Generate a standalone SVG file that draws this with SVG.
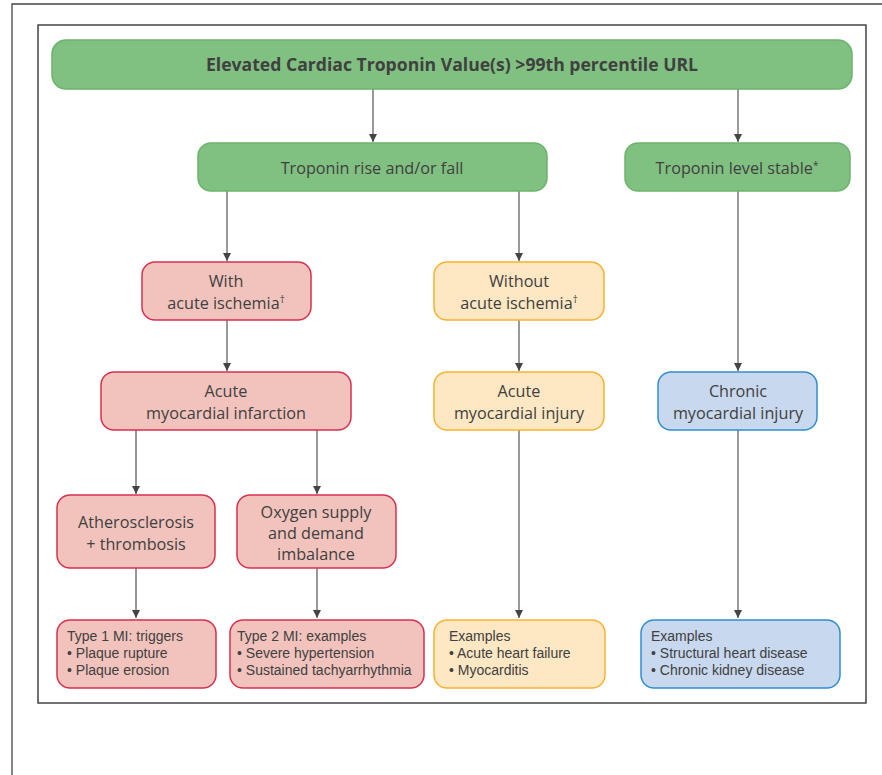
<svg xmlns="http://www.w3.org/2000/svg" width="882" height="775" viewBox="0 0 882 775">
<style>
text{font-family:"Open Sans","Liberation Sans",sans-serif;fill:#404040;}
.t{font-size:16.2px;text-anchor:middle;}
.s{font-family:"Liberation Sans",Arial,sans-serif;font-size:14px;}
.g{fill:#80c080;stroke:#6cb46a;stroke-width:1.5;}
.r{fill:#f2c3bc;stroke:#d8314f;stroke-width:1.5;}
.y{fill:#fee7c3;stroke:#f7b232;stroke-width:1.5;}
.b{fill:#c8d8ee;stroke:#2f8fd0;stroke-width:1.5;}
.c line{stroke:#555;stroke-width:1.2;marker-end:url(#ah);}
.sup{font-size:10px;}
</style>
<defs>
<marker id="ah" viewBox="0 0 8 10" refX="8" refY="5" markerWidth="8" markerHeight="10" markerUnits="userSpaceOnUse" orient="auto">
<path d="M0,1 L8,5 L0,9 z" fill="#444"/>
</marker>
</defs>
<rect width="882" height="775" fill="#fff"/>
<g id="frame" fill="none" stroke="#444">
<path d="M12,775 V4 H882" stroke-width="1.3"/>
<rect x="38" y="25" width="828" height="678" stroke-width="1.5"/>
</g>
<g class="c" id="connectors">
<line x1="373" y1="89" x2="373" y2="142"/>
<line x1="738" y1="89" x2="738" y2="142"/>
<line x1="227" y1="191" x2="227" y2="261"/>
<line x1="519" y1="191" x2="519" y2="261"/>
<line x1="227" y1="320" x2="227" y2="371"/>
<line x1="519" y1="320" x2="519" y2="371"/>
<line x1="738" y1="191" x2="738" y2="371"/>
<line x1="136" y1="430" x2="136" y2="494"/>
<line x1="317" y1="430" x2="317" y2="494"/>
<line x1="136" y1="568" x2="136" y2="618"/>
<line x1="317" y1="568" x2="317" y2="618"/>
<line x1="519" y1="430" x2="519" y2="618"/>
<line x1="738" y1="430" x2="738" y2="618"/>
</g>
<g id="n-top"><rect class="g" x="52" y="40" width="800" height="49" rx="14"/>
<text x="452" y="71" text-anchor="middle" font-size="17.6" font-weight="bold">Elevated Cardiac Troponin Value(s) &gt;99th percentile URL</text></g>
<g id="n-rise"><rect class="g" x="198" y="143" width="349" height="48" rx="13"/>
<text class="t" x="372" y="174">Troponin rise and/or fall</text></g>
<g id="n-stable"><rect class="g" x="625" y="143" width="225" height="48" rx="13"/>
<text class="t" x="737" y="174">Troponin level stable<tspan class="sup" dy="-5">*</tspan></text></g>
<g id="n-with"><rect class="r" x="142" y="262" width="169" height="58" rx="13"/>
<text class="t" x="226" y="287">With</text>
<text class="t" x="226" y="309">acute ischemia<tspan class="sup" dy="-6">†</tspan></text></g>
<g id="n-without"><rect class="y" x="434" y="262" width="170" height="58" rx="13"/>
<text class="t" x="519" y="287">Without</text>
<text class="t" x="519" y="309">acute ischemia<tspan class="sup" dy="-6">†</tspan></text></g>
<g id="n-ami"><rect class="r" x="101" y="372" width="250" height="58" rx="13"/>
<text class="t" x="226" y="397">Acute</text>
<text class="t" x="226" y="419">myocardial infarction</text></g>
<g id="n-ainj"><rect class="y" x="434" y="372" width="170" height="58" rx="13"/>
<text class="t" x="519" y="397">Acute</text>
<text class="t" x="519" y="419">myocardial injury</text></g>
<g id="n-cinj"><rect class="b" x="658" y="372" width="159" height="58" rx="13"/>
<text class="t" x="738" y="397">Chronic</text>
<text class="t" x="738" y="419">myocardial injury</text></g>
<g id="n-athero"><rect class="r" x="57" y="495" width="158" height="73" rx="13"/>
<text class="t" x="136" y="528">Atherosclerosis</text>
<text class="t" x="136" y="550">+ thrombosis</text></g>
<g id="n-oxy"><rect class="r" x="237" y="495" width="159" height="73" rx="13"/>
<text class="t" x="316" y="518">Oxygen supply</text>
<text class="t" x="316" y="539">and demand</text>
<text class="t" x="316" y="560">imbalance</text></g>
<g id="n-type1"><rect class="r" x="57" y="620" width="159" height="68" rx="13"/>
<text class="s" x="67" y="641">Type 1 MI: triggers</text>
<text class="s" x="67" y="658">• Plaque rupture</text>
<text class="s" x="67" y="675">• Plaque erosion</text></g>
<g id="n-type2"><rect class="r" x="230" y="620" width="194" height="68" rx="13"/>
<text class="s" x="237" y="641">Type 2 MI: examples</text>
<text class="s" x="237" y="658">• Severe hypertension</text>
<text class="s" x="237" y="675">• Sustained tachyarrhythmia</text></g>
<g id="n-ex1"><rect class="y" x="434" y="620" width="171" height="68" rx="13"/>
<text class="s" x="449" y="641">Examples</text>
<text class="s" x="449" y="658">• Acute heart failure</text>
<text class="s" x="449" y="675">• Myocarditis</text></g>
<g id="n-ex2"><rect class="b" x="641" y="620" width="199" height="68" rx="13"/>
<text class="s" x="651" y="641">Examples</text>
<text class="s" x="651" y="658">• Structural heart disease</text>
<text class="s" x="651" y="675">• Chronic kidney disease</text></g>
</svg>
